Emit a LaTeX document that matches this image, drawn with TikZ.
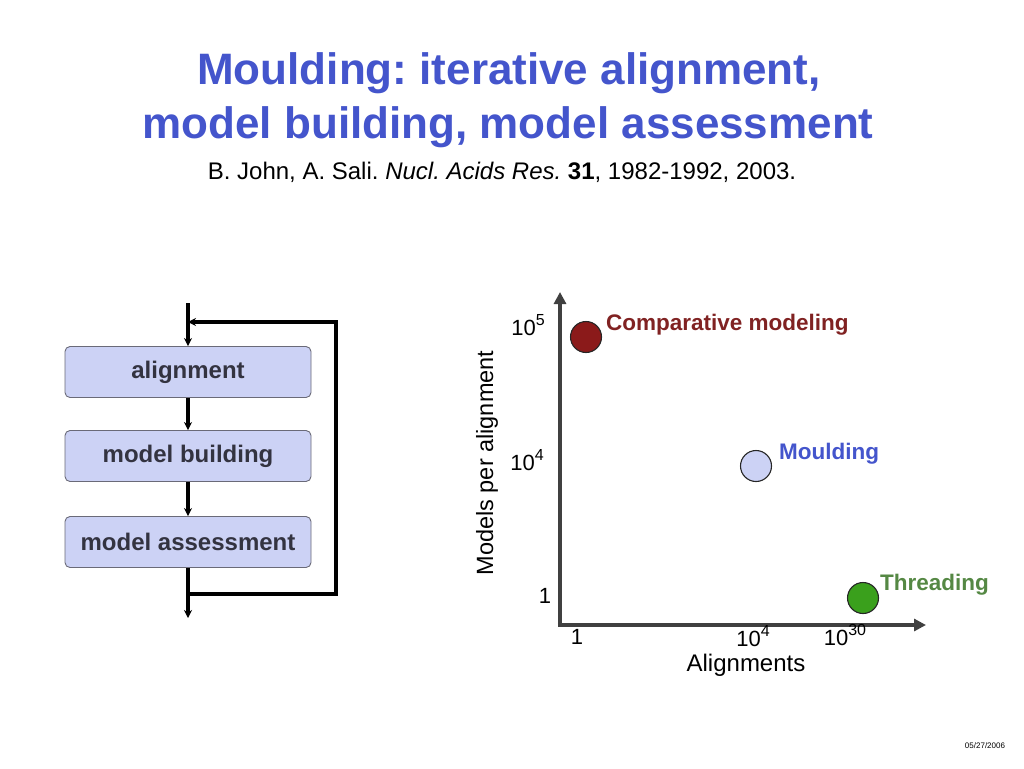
\documentclass[tikz,border=0pt]{standalone}
\usepackage{fontspec}
\setmainfont{Liberation Sans}
\usetikzlibrary{arrows.meta}
\definecolor{titleblue}{HTML}{4455CC}
\definecolor{boxfill}{HTML}{CCD2F5}
\definecolor{boxedge}{HTML}{6A6A78}
\definecolor{boxtext}{HTML}{333340}
\definecolor{axisgray}{HTML}{404040}
\definecolor{cmred}{HTML}{8B1A1A}
\definecolor{cmlabel}{HTML}{802222}
\definecolor{thgreen}{HTML}{3AA01C}
\definecolor{thlabel}{HTML}{558844}
\newcommand{\mysup}[1]{\raisebox{0.42em}{\fontsize{16}{16}\selectfont #1}}
\frenchspacing
\begin{document}
\frenchspacing
\begin{tikzpicture}[x=1pt,y=-1pt,
  stepbox/.style={draw=boxedge, line width=0.9pt, fill=boxfill, rounded corners=5pt,
    minimum width=246pt, minimum height=51pt, inner sep=0pt,
    font=\fontsize{24}{28}\selectfont\bfseries, text=boxtext},
  flow/.style={line width=3.2pt, draw=black, -{Stealth[length=8pt,width=8pt]}},
  axis/.style={line width=4.2pt, draw=axisgray, -{Triangle[length=12pt,width=12pt]}},
  dot/.style={circle, draw=black!85, line width=1.1pt, minimum size=31pt, inner sep=0pt},
  lab/.style={anchor=west, inner sep=0pt, font=\fontsize{22.5}{26}\selectfont\bfseries},
  tick/.style={inner sep=0pt, font=\fontsize{22}{26}\selectfont},
]
\useasboundingbox (0,0) rectangle (1024,768);

% title
\node[anchor=base, inner sep=0pt, font=\fontsize{44}{50}\selectfont\bfseries, text=titleblue] (t1) at (509,84) {Moulding: iterative alignment,};
\node[anchor=base, inner sep=0pt, font=\fontsize{44}{50}\selectfont\bfseries, text=titleblue] (t2) at (508,138) {model building, model assessment};
\node[anchor=base, inner sep=0pt, font=\fontsize{24}{28}\selectfont] (cite) at (502,179) {B. John, A. Sali. \textit{Nucl. Acids Res.} \textbf{31}, 1982-1992, 2003.};

% flowchart
\node[stepbox] (al) at (188,372) {alignment};
\node[stepbox] (mb) at (188,456) {model building};
\node[stepbox] (ma) at (188,542) {model assessment};
\coordinate (top) at (188,303);
\coordinate (fbtop) at (188,322);
\coordinate (fbtr) at (336,322);
\coordinate (fbbr) at (336,594);
\coordinate (fbbl) at (188,594);
\coordinate (bot) at (188,618);
\draw[flow] (top) -- (al.north);
\draw[flow] (al.south) -- (mb.north);
\draw[flow] (mb.south) -- (ma.north);
\draw[flow] (ma.south) -- (bot);
\draw[flow] (fbbl) -- (fbbr) -- (fbtr) -- (fbtop);

% axes
\coordinate (origin) at (560,625);
\coordinate (ytop) at (560,292);
\coordinate (xend) at (926,625);
\draw[axis] (origin) -- (ytop);
\draw[axis] ([xshift=-2.1pt]origin) -- (xend);

% points
\node[dot, fill=cmred] (cm) at (586,337) {};
\node[dot, fill=boxfill] (mo) at (756,466) {};
\node[dot, fill=thgreen] (th) at (863,598) {};
\node[lab, text=cmlabel] (cml) at (606,325) {Comparative modeling};
\node[lab, text=titleblue] (mol) at (779,454) {Moulding};
\node[lab, text=thlabel] (thl) at (880,585) {Threading};

% ticks
\node[tick] (y5) at (528,325) {10\mysup{5}};
\node[tick] (y4) at (527,460) {10\mysup{4}};
\node[tick] (y1) at (545,596) {1};
\node[tick] (x1) at (577,637) {1};
\node[tick] (x4) at (753,636) {10\mysup{4}};
\node[tick] (x30) at (845,635) {10\mysup{30}};
\node[inner sep=0pt, font=\fontsize{24}{28}\selectfont] (xl) at (746,665) {Alignments};
\node[inner sep=0pt, rotate=90, font=\fontsize{23.5}{28}\selectfont] (yl) at (487,463) {Models per alignment};

% date
\node[inner sep=0pt, font=\fontsize{8}{10}\selectfont] (date) at (985,746) {05/27/2006};
\end{tikzpicture}
\end{document}
